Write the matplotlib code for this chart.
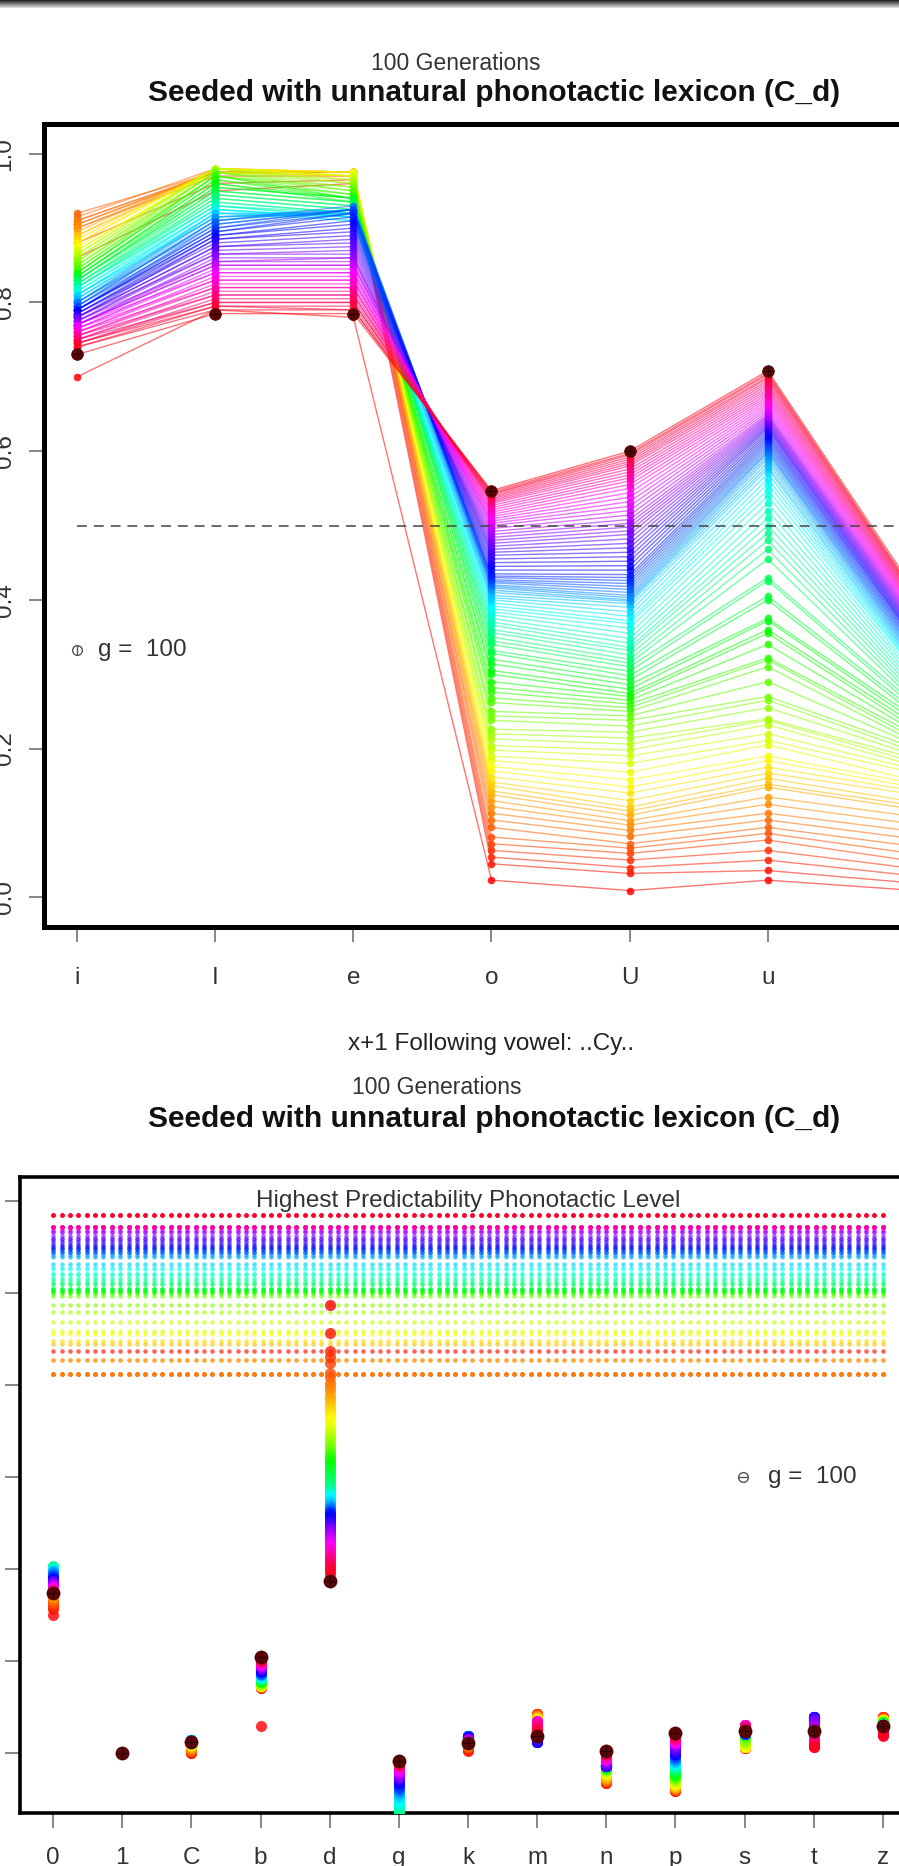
import numpy as np
import matplotlib
matplotlib.use("Agg")
import matplotlib.pyplot as plt
from matplotlib.colors import hsv_to_rgb

plt.rcParams["font.family"] = ["Liberation Sans", "DejaVu Sans"]

W, H, DPI = 899, 1866, 100

# ---- top panel: proportion per following vowel, one value per generation (g = 1..100)
vowels = ["i", "I", "e", "o", "U", "u", "a"]

v_i = [0.70, 0.86, 0.88, 0.90, 0.905, 0.91, 0.92, 0.915, 0.91, 0.905,
       0.90, 0.895, 0.89, 0.89, 0.885, 0.88, 0.88, 0.875, 0.87, 0.87,
       0.865, 0.865, 0.86, 0.86, 0.855, 0.855, 0.85, 0.85, 0.845, 0.845,
       0.84, 0.84, 0.84, 0.835, 0.835, 0.83, 0.835, 0.83, 0.83, 0.825,
       0.83, 0.825, 0.82, 0.825, 0.82, 0.82, 0.815, 0.82, 0.815, 0.81,
       0.81, 0.81, 0.805, 0.81, 0.80, 0.805, 0.80, 0.80, 0.795, 0.80,
       0.795, 0.79, 0.795, 0.79, 0.79, 0.79, 0.785, 0.79, 0.785, 0.78,
       0.785, 0.78, 0.78, 0.775, 0.78, 0.775, 0.77, 0.775, 0.77, 0.77,
       0.77, 0.765, 0.77, 0.765, 0.76, 0.765, 0.76, 0.755, 0.76, 0.755,
       0.75, 0.755, 0.75, 0.745, 0.75, 0.745, 0.74, 0.745, 0.74, 0.73]
v_I = [0.79, 0.95, 0.96, 0.97, 0.975, 0.975, 0.975, 0.98, 0.975, 0.975,
       0.975, 0.98, 0.98, 0.975, 0.98, 0.98, 0.98, 0.975, 0.98, 0.98,
       0.98, 0.98, 0.975, 0.98, 0.975, 0.975, 0.97, 0.975, 0.97, 0.97,
       0.965, 0.97, 0.965, 0.96, 0.96, 0.955, 0.955, 0.95, 0.95, 0.945,
       0.945, 0.94, 0.94, 0.935, 0.935, 0.93, 0.93, 0.93, 0.925, 0.925,
       0.92, 0.925, 0.92, 0.915, 0.92, 0.915, 0.91, 0.915, 0.91, 0.905,
       0.91, 0.905, 0.90, 0.90, 0.895, 0.895, 0.89, 0.89, 0.885, 0.885,
       0.88, 0.875, 0.875, 0.87, 0.865, 0.865, 0.86, 0.855, 0.855, 0.85,
       0.85, 0.845, 0.84, 0.84, 0.835, 0.83, 0.83, 0.825, 0.82, 0.82,
       0.815, 0.81, 0.81, 0.805, 0.80, 0.80, 0.795, 0.795, 0.79, 0.785]
v_e = [0.78, 0.96, 0.965, 0.97, 0.975, 0.975, 0.975, 0.975, 0.97, 0.975,
       0.975, 0.975, 0.97, 0.975, 0.975, 0.975, 0.97, 0.97, 0.975, 0.97,
       0.97, 0.965, 0.965, 0.96, 0.96, 0.955, 0.955, 0.95, 0.95, 0.945,
       0.945, 0.94, 0.94, 0.94, 0.935, 0.94, 0.94, 0.935, 0.935, 0.93,
       0.93, 0.925, 0.925, 0.92, 0.92, 0.92, 0.915, 0.915, 0.915, 0.91,
       0.91, 0.915, 0.915, 0.92, 0.92, 0.92, 0.925, 0.925, 0.925, 0.925,
       0.93, 0.925, 0.925, 0.92, 0.92, 0.915, 0.91, 0.905, 0.90, 0.895,
       0.89, 0.885, 0.88, 0.875, 0.87, 0.865, 0.86, 0.86, 0.855, 0.85,
       0.85, 0.845, 0.84, 0.84, 0.835, 0.83, 0.83, 0.825, 0.82, 0.82,
       0.815, 0.81, 0.81, 0.805, 0.80, 0.80, 0.795, 0.79, 0.79, 0.785]
v_o = [0.023, 0.045, 0.054, 0.063, 0.072, 0.081, 0.094, 0.104, 0.113, 0.122,
       0.13, 0.138, 0.143, 0.15, 0.155, 0.162, 0.17, 0.176, 0.184, 0.19,
       0.198, 0.204, 0.213, 0.22, 0.226, 0.238, 0.244, 0.25, 0.262, 0.268,
       0.276, 0.282, 0.29, 0.30, 0.305, 0.314, 0.32, 0.328, 0.332, 0.34,
       0.345, 0.35, 0.356, 0.36, 0.366, 0.37, 0.375, 0.38, 0.384, 0.388,
       0.392, 0.396, 0.40, 0.403, 0.406, 0.41, 0.413, 0.416, 0.418, 0.42,
       0.423, 0.425, 0.427, 0.43, 0.432, 0.435, 0.44, 0.445, 0.45, 0.455,
       0.46, 0.464, 0.468, 0.472, 0.476, 0.48, 0.484, 0.488, 0.492, 0.496,
       0.50, 0.503, 0.506, 0.509, 0.512, 0.515, 0.518, 0.521, 0.524, 0.527,
       0.53, 0.532, 0.534, 0.536, 0.538, 0.54, 0.542, 0.543, 0.545, 0.547]
v_U = [0.009, 0.032, 0.04, 0.05, 0.059, 0.066, 0.072, 0.082, 0.09, 0.097,
       0.103, 0.11, 0.116, 0.121, 0.13, 0.14, 0.148, 0.158, 0.168, 0.18,
       0.19, 0.198, 0.206, 0.214, 0.222, 0.23, 0.238, 0.244, 0.25, 0.255,
       0.26, 0.265, 0.27, 0.274, 0.28, 0.286, 0.292, 0.298, 0.304, 0.31,
       0.315, 0.32, 0.326, 0.332, 0.336, 0.342, 0.348, 0.355, 0.362, 0.368,
       0.372, 0.378, 0.384, 0.39, 0.395, 0.398, 0.40, 0.403, 0.406, 0.41,
       0.414, 0.418, 0.422, 0.426, 0.43, 0.434, 0.44, 0.446, 0.452, 0.458,
       0.464, 0.47, 0.476, 0.482, 0.488, 0.493, 0.498, 0.503, 0.508, 0.514,
       0.52, 0.526, 0.532, 0.538, 0.544, 0.55, 0.555, 0.56, 0.564, 0.568,
       0.572, 0.576, 0.58, 0.583, 0.586, 0.589, 0.592, 0.595, 0.597, 0.60]
v_u = [0.023, 0.036, 0.05, 0.063, 0.077, 0.086, 0.094, 0.104, 0.113, 0.125,
       0.135, 0.148, 0.152, 0.16, 0.167, 0.175, 0.184, 0.19, 0.205, 0.211,
       0.22, 0.232, 0.238, 0.24, 0.255, 0.265, 0.27, 0.29, 0.31, 0.319,
       0.322, 0.34, 0.355, 0.36, 0.372, 0.375, 0.40, 0.405, 0.426, 0.43,
       0.455, 0.468, 0.48, 0.49, 0.50, 0.51, 0.52, 0.53, 0.54, 0.548,
       0.556, 0.563, 0.57, 0.576, 0.58, 0.585, 0.59, 0.594, 0.598, 0.60,
       0.603, 0.606, 0.609, 0.612, 0.615, 0.618, 0.621, 0.624, 0.627, 0.63,
       0.632, 0.634, 0.636, 0.638, 0.64, 0.642, 0.644, 0.646, 0.648, 0.65,
       0.653, 0.656, 0.659, 0.662, 0.665, 0.668, 0.671, 0.674, 0.677, 0.68,
       0.683, 0.686, 0.689, 0.692, 0.695, 0.698, 0.70, 0.703, 0.705, 0.708]
v_a = [0.01, 0.02, 0.03, 0.04, 0.05, 0.06, 0.07, 0.08, 0.09, 0.10,
       0.11, 0.12, 0.125, 0.13, 0.14, 0.145, 0.15, 0.155, 0.16, 0.17,
       0.175, 0.18, 0.185, 0.19, 0.195, 0.20, 0.205, 0.21, 0.215, 0.22,
       0.225, 0.23, 0.235, 0.24, 0.245, 0.25, 0.255, 0.26, 0.265, 0.27,
       0.275, 0.28, 0.285, 0.29, 0.295, 0.30, 0.305, 0.31, 0.315, 0.32,
       0.322, 0.325, 0.327, 0.33, 0.332, 0.335, 0.337, 0.34, 0.342, 0.345,
       0.347, 0.35, 0.352, 0.355, 0.357, 0.36, 0.362, 0.364, 0.366, 0.368,
       0.37, 0.372, 0.374, 0.376, 0.378, 0.38, 0.382, 0.384, 0.386, 0.388,
       0.39, 0.392, 0.394, 0.396, 0.398, 0.40, 0.402, 0.404, 0.406, 0.408,
       0.41, 0.412, 0.414, 0.416, 0.418, 0.42, 0.422, 0.424, 0.426, 0.43]

# ---- bottom panel: value per consonant, one value per generation
consonants = ["0", "1", "C", "b", "d", "g", "k", "m", "n", "p", "s", "t", "z"]

c_0 = [1.50, 1.56, 1.58, 1.60, 1.62, 1.64, 1.65, 1.66, 1.68, 1.69,
       1.70, 1.72, 1.73, 1.75, 1.76, 1.78, 1.79, 1.80, 1.82, 1.83,
       1.84, 1.85, 1.86, 1.87, 1.88, 1.89, 1.90, 1.91, 1.92, 1.93,
       1.94, 1.95, 1.96, 1.97, 1.98, 1.99, 2.00, 2.00, 2.01, 2.02,
       2.02, 2.02, 2.03, 2.02, 2.02, 2.01, 2.01, 2.00, 2.00, 1.99,
       1.99, 1.98, 1.98, 1.97, 1.97, 1.96, 1.96, 1.95, 1.94, 1.94,
       1.93, 1.92, 1.92, 1.91, 1.90, 1.90, 1.89, 1.89, 1.88, 1.87,
       1.87, 1.86, 1.86, 1.85, 1.84, 1.84, 1.83, 1.83, 1.82, 1.81,
       1.81, 1.80, 1.80, 1.79, 1.79, 1.78, 1.78, 1.77, 1.77, 1.76,
       1.76, 1.76, 1.75, 1.75, 1.75, 1.74, 1.74, 1.74, 1.74, 1.74]
c_1 = [0.0, 0.0, 0.0, 0.0, 0.0, 0.0, 0.0, 0.0, 0.0, 0.0,
       0.0, 0.0, 0.0, 0.0, 0.0, 0.0, 0.0, 0.0, 0.0, 0.0,
       0.0, 0.0, 0.0, 0.0, 0.0, 0.0, 0.0, 0.0, 0.0, 0.0,
       0.0, 0.0, 0.0, 0.0, 0.0, 0.0, 0.0, 0.0, 0.0, 0.0,
       0.0, 0.0, 0.0, 0.0, 0.0, 0.0, 0.0, 0.0, 0.0, 0.0,
       0.0, 0.0, 0.0, 0.0, 0.0, 0.0, 0.0, 0.0, 0.0, 0.0,
       0.0, 0.0, 0.0, 0.0, 0.0, 0.0, 0.0, 0.0, 0.0, 0.0,
       0.0, 0.0, 0.0, 0.0, 0.0, 0.0, 0.0, 0.0, 0.0, 0.0,
       0.0, 0.0, 0.0, 0.0, 0.0, 0.0, 0.0, 0.0, 0.0, 0.0,
       0.0, 0.0, 0.0, 0.0, 0.0, 0.0, 0.0, 0.0, 0.0, 0.0]
c_C = [0.00, 0.00, 0.01, 0.01, 0.02, 0.02, 0.03, 0.03, 0.04, 0.05,
       0.06, 0.06, 0.07, 0.07, 0.08, 0.08, 0.08, 0.09, 0.09, 0.09,
       0.10, 0.10, 0.10, 0.10, 0.11, 0.11, 0.11, 0.11, 0.11, 0.12,
       0.12, 0.12, 0.12, 0.12, 0.12, 0.13, 0.13, 0.13, 0.13, 0.13,
       0.13, 0.13, 0.13, 0.14, 0.14, 0.14, 0.14, 0.14, 0.14, 0.14,
       0.14, 0.14, 0.14, 0.14, 0.14, 0.14, 0.14, 0.14, 0.13, 0.13,
       0.13, 0.13, 0.13, 0.13, 0.13, 0.13, 0.13, 0.13, 0.13, 0.13,
       0.13, 0.13, 0.13, 0.13, 0.13, 0.12, 0.12, 0.12, 0.12, 0.12,
       0.12, 0.12, 0.12, 0.12, 0.12, 0.12, 0.12, 0.12, 0.12, 0.12,
       0.12, 0.12, 0.12, 0.12, 0.12, 0.12, 0.12, 0.12, 0.12, 0.12]
c_b = [0.29, 0.70, 0.70, 0.71, 0.71, 0.71, 0.72, 0.72, 0.72, 0.72,
       0.72, 0.72, 0.72, 0.72, 0.72, 0.72, 0.72, 0.73, 0.73, 0.74,
       0.74, 0.75, 0.75, 0.75, 0.76, 0.76, 0.76, 0.77, 0.77, 0.77,
       0.77, 0.78, 0.78, 0.78, 0.78, 0.79, 0.79, 0.79, 0.79, 0.80,
       0.80, 0.80, 0.80, 0.81, 0.81, 0.81, 0.81, 0.82, 0.82, 0.82,
       0.83, 0.83, 0.83, 0.84, 0.84, 0.84, 0.85, 0.85, 0.86, 0.86,
       0.86, 0.87, 0.87, 0.88, 0.88, 0.88, 0.89, 0.89, 0.90, 0.90,
       0.91, 0.91, 0.92, 0.92, 0.93, 0.93, 0.93, 0.94, 0.94, 0.95,
       0.95, 0.95, 0.96, 0.96, 0.96, 0.97, 0.97, 0.98, 0.98, 0.98,
       0.99, 0.99, 1.00, 1.00, 1.01, 1.01, 1.02, 1.02, 1.03, 1.04]
c_d = [4.86, 4.56, 4.36, 4.30, 4.24, 4.13, 4.08, 4.02, 3.97, 3.93,
       3.88, 3.84, 3.80, 3.76, 3.72, 3.68, 3.64, 3.60, 3.56, 3.52,
       3.48, 3.45, 3.42, 3.39, 3.36, 3.33, 3.30, 3.27, 3.25, 3.23,
       3.21, 3.19, 3.17, 3.15, 3.12, 3.09, 3.06, 3.03, 3.00, 2.97,
       2.94, 2.91, 2.89, 2.87, 2.85, 2.83, 2.82, 2.81, 2.80, 2.79,
       2.78, 2.76, 2.74, 2.72, 2.70, 2.69, 2.68, 2.67, 2.66, 2.65,
       2.64, 2.63, 2.62, 2.61, 2.60, 2.59, 2.58, 2.56, 2.54, 2.52,
       2.50, 2.48, 2.46, 2.45, 2.44, 2.42, 2.40, 2.38, 2.36, 2.34,
       2.32, 2.30, 2.28, 2.26, 2.24, 2.22, 2.20, 2.18, 2.16, 2.14,
       2.12, 2.10, 2.08, 2.06, 2.04, 2.02, 2.00, 1.97, 1.94, 1.86]
c_g = [-2.6, -2.5, -2.4, -2.3, -2.2, -2.1, -2.0, -1.95, -1.9, -1.85,
       -1.8, -1.75, -1.7, -1.65, -1.6, -1.55, -1.5, -1.45, -1.4, -1.35,
       -1.3, -1.25, -1.2, -1.15, -1.1, -1.06, -1.02, -0.98, -0.94, -0.90,
       -0.87, -0.84, -0.81, -0.78, -0.75, -0.73, -0.71, -0.69, -0.67, -0.65,
       -0.63, -0.62, -0.61, -0.60, -0.59, -0.58, -0.57, -0.56, -0.55, -0.54,
       -0.52, -0.50, -0.48, -0.46, -0.45, -0.44, -0.43, -0.42, -0.41, -0.40,
       -0.39, -0.38, -0.37, -0.36, -0.35, -0.34, -0.33, -0.32, -0.31, -0.30,
       -0.29, -0.28, -0.27, -0.27, -0.26, -0.25, -0.24, -0.23, -0.22, -0.22,
       -0.21, -0.20, -0.19, -0.18, -0.18, -0.17, -0.16, -0.16, -0.15, -0.14,
       -0.14, -0.13, -0.13, -0.12, -0.12, -0.11, -0.11, -0.10, -0.10, -0.09]
c_k = [0.02, 0.03, 0.04, 0.05, 0.06, 0.06, 0.07, 0.07, 0.08, 0.08,
       0.09, 0.09, 0.09, 0.10, 0.10, 0.10, 0.11, 0.11, 0.11, 0.11,
       0.12, 0.12, 0.12, 0.12, 0.13, 0.13, 0.13, 0.13, 0.14, 0.14,
       0.14, 0.14, 0.15, 0.15, 0.15, 0.15, 0.15, 0.16, 0.16, 0.16,
       0.16, 0.16, 0.17, 0.17, 0.17, 0.17, 0.17, 0.17, 0.18, 0.18,
       0.18, 0.18, 0.18, 0.18, 0.18, 0.18, 0.18, 0.18, 0.18, 0.18,
       0.18, 0.18, 0.18, 0.17, 0.17, 0.17, 0.17, 0.17, 0.16, 0.16,
       0.16, 0.16, 0.15, 0.15, 0.15, 0.15, 0.14, 0.14, 0.14, 0.14,
       0.13, 0.13, 0.13, 0.13, 0.12, 0.12, 0.12, 0.12, 0.12, 0.11,
       0.11, 0.11, 0.11, 0.11, 0.11, 0.11, 0.11, 0.11, 0.11, 0.11]
c_m = [0.42, 0.42, 0.42, 0.42, 0.41, 0.41, 0.41, 0.40, 0.40, 0.40,
       0.39, 0.39, 0.38, 0.38, 0.37, 0.37, 0.36, 0.36, 0.35, 0.35,
       0.34, 0.34, 0.33, 0.33, 0.32, 0.32, 0.31, 0.31, 0.30, 0.30,
       0.29, 0.29, 0.28, 0.28, 0.27, 0.27, 0.26, 0.26, 0.25, 0.25,
       0.24, 0.24, 0.23, 0.23, 0.22, 0.22, 0.21, 0.21, 0.20, 0.20,
       0.19, 0.19, 0.18, 0.18, 0.17, 0.17, 0.16, 0.16, 0.15, 0.15,
       0.14, 0.14, 0.13, 0.13, 0.13, 0.12, 0.12, 0.12, 0.12, 0.13,
       0.14, 0.16, 0.18, 0.20, 0.22, 0.24, 0.26, 0.28, 0.30, 0.31,
       0.32, 0.33, 0.33, 0.34, 0.34, 0.34, 0.33, 0.33, 0.32, 0.31,
       0.30, 0.29, 0.28, 0.27, 0.26, 0.25, 0.24, 0.22, 0.20, 0.185]
c_n = [-0.33, -0.33, -0.32, -0.32, -0.31, -0.31, -0.30, -0.30, -0.29, -0.29,
       -0.28, -0.27, -0.26, -0.25, -0.24, -0.23, -0.22, -0.22, -0.21, -0.21,
       -0.20, -0.20, -0.20, -0.19, -0.19, -0.19, -0.18, -0.18, -0.18, -0.17,
       -0.17, -0.17, -0.17, -0.16, -0.16, -0.16, -0.16, -0.15, -0.15, -0.15,
       -0.15, -0.15, -0.14, -0.14, -0.14, -0.14, -0.14, -0.14, -0.13, -0.13,
       -0.13, -0.13, -0.13, -0.13, -0.13, -0.13, -0.13, -0.13, -0.13, -0.14,
       -0.14, -0.14, -0.14, -0.15, -0.15, -0.15, -0.15, -0.15, -0.15, -0.15,
       -0.14, -0.14, -0.13, -0.12, -0.11, -0.10, -0.10, -0.09, -0.09, -0.08,
       -0.08, -0.08, -0.07, -0.07, -0.06, -0.06, -0.05, -0.05, -0.04, -0.04,
       -0.03, -0.03, -0.02, -0.02, -0.01, -0.01, 0.00, 0.00, 0.01, 0.02]
c_p = [-0.42, -0.42, -0.41, -0.41, -0.40, -0.40, -0.39, -0.39, -0.38, -0.38,
       -0.37, -0.37, -0.36, -0.36, -0.35, -0.35, -0.34, -0.33, -0.33, -0.32,
       -0.31, -0.31, -0.30, -0.29, -0.29, -0.28, -0.27, -0.27, -0.26, -0.25,
       -0.25, -0.24, -0.23, -0.23, -0.22, -0.21, -0.21, -0.20, -0.19, -0.19,
       -0.18, -0.17, -0.17, -0.16, -0.15, -0.15, -0.14, -0.13, -0.13, -0.12,
       -0.11, -0.11, -0.10, -0.10, -0.09, -0.08, -0.08, -0.07, -0.06, -0.06,
       -0.05, -0.05, -0.04, -0.03, -0.03, -0.02, -0.01, -0.01, 0.00, 0.01,
       0.02, 0.03, 0.04, 0.05, 0.06, 0.07, 0.08, 0.08, 0.09, 0.10,
       0.10, 0.11, 0.12, 0.12, 0.13, 0.13, 0.14, 0.14, 0.15, 0.15,
       0.16, 0.16, 0.17, 0.17, 0.18, 0.18, 0.19, 0.19, 0.20, 0.21]
c_s = [0.05, 0.05, 0.05, 0.06, 0.06, 0.06, 0.06, 0.06, 0.06, 0.06,
       0.06, 0.06, 0.06, 0.06, 0.06, 0.06, 0.06, 0.07, 0.08, 0.09,
       0.10, 0.11, 0.12, 0.13, 0.14, 0.15, 0.16, 0.17, 0.18, 0.19,
       0.19, 0.20, 0.20, 0.21, 0.21, 0.21, 0.22, 0.22, 0.22, 0.22,
       0.22, 0.22, 0.22, 0.22, 0.22, 0.22, 0.22, 0.22, 0.21, 0.21,
       0.21, 0.21, 0.21, 0.20, 0.20, 0.20, 0.20, 0.20, 0.20, 0.20,
       0.20, 0.20, 0.20, 0.21, 0.21, 0.21, 0.22, 0.22, 0.22, 0.23,
       0.23, 0.24, 0.24, 0.25, 0.25, 0.26, 0.26, 0.27, 0.27, 0.28,
       0.28, 0.29, 0.29, 0.30, 0.30, 0.30, 0.30, 0.30, 0.29, 0.29,
       0.28, 0.28, 0.27, 0.27, 0.26, 0.26, 0.25, 0.25, 0.25, 0.24]
c_t = [0.22, 0.22, 0.23, 0.23, 0.23, 0.24, 0.24, 0.24, 0.25, 0.25,
       0.25, 0.25, 0.26, 0.26, 0.26, 0.26, 0.27, 0.27, 0.27, 0.27,
       0.27, 0.28, 0.28, 0.28, 0.28, 0.28, 0.29, 0.29, 0.29, 0.29,
       0.29, 0.29, 0.30, 0.30, 0.30, 0.30, 0.30, 0.30, 0.31, 0.31,
       0.31, 0.31, 0.32, 0.32, 0.32, 0.33, 0.33, 0.33, 0.34, 0.34,
       0.34, 0.35, 0.35, 0.35, 0.36, 0.36, 0.36, 0.37, 0.37, 0.37,
       0.38, 0.38, 0.38, 0.38, 0.39, 0.39, 0.39, 0.39, 0.39, 0.39,
       0.38, 0.38, 0.37, 0.36, 0.35, 0.33, 0.32, 0.30, 0.29, 0.27,
       0.26, 0.24, 0.23, 0.21, 0.20, 0.18, 0.17, 0.16, 0.14, 0.13,
       0.12, 0.11, 0.10, 0.09, 0.08, 0.07, 0.07, 0.06, 0.06, 0.24]
c_z = [0.39, 0.39, 0.39, 0.39, 0.38, 0.38, 0.38, 0.37, 0.37, 0.37,
       0.36, 0.36, 0.36, 0.36, 0.35, 0.35, 0.35, 0.35, 0.35, 0.34,
       0.34, 0.34, 0.34, 0.34, 0.33, 0.33, 0.33, 0.33, 0.33, 0.33,
       0.32, 0.32, 0.32, 0.32, 0.32, 0.32, 0.32, 0.31, 0.31, 0.31,
       0.31, 0.31, 0.31, 0.31, 0.31, 0.31, 0.30, 0.30, 0.30, 0.30,
       0.30, 0.30, 0.30, 0.30, 0.30, 0.30, 0.30, 0.30, 0.30, 0.30,
       0.30, 0.30, 0.30, 0.30, 0.30, 0.30, 0.30, 0.30, 0.30, 0.30,
       0.30, 0.30, 0.30, 0.30, 0.30, 0.29, 0.29, 0.29, 0.29, 0.28,
       0.28, 0.27, 0.27, 0.26, 0.26, 0.25, 0.25, 0.24, 0.23, 0.23,
       0.22, 0.22, 0.21, 0.21, 0.20, 0.20, 0.19, 0.19, 0.18, 0.29]

# highest predictability phonotactic level per generation
top_level = [4.36, 4.36, 4.11, 4.11, 4.11, 4.11, 4.11, 4.11, 4.27, 4.27,
             4.27, 4.11, 4.44, 4.44, 4.47, 4.47, 4.55, 4.55, 4.58, 4.58,
             4.68, 4.68, 4.79, 4.79, 4.87, 4.87, 4.96, 4.96, 4.99, 4.99,
             5.01, 5.01, 5.02, 5.02, 5.04, 5.04, 5.04, 5.04, 5.04, 5.09,
             5.09, 5.09, 5.13, 5.13, 5.16, 5.16, 5.20, 5.20, 5.20, 5.26,
             5.26, 5.28, 5.31, 5.31, 5.39, 5.39, 5.41, 5.41, 5.44, 5.44,
             5.44, 5.44, 5.47, 5.47, 5.47, 5.50, 5.50, 5.52, 5.52, 5.55,
             5.55, 5.58, 5.58, 5.58, 5.62, 5.62, 5.66, 5.66, 5.66, 5.68,
             5.68, 5.71, 5.71, 5.71, 5.71, 5.71, 5.71, 5.71, 5.71, 5.71,
             5.71, 5.71, 5.84, 5.84, 5.84, 5.84, 5.84, 5.84, 5.84, 5.84]

n_gen = len(v_i)
gen_colors = [hsv_to_rgb(((g) / n_gen, 1.0, 1.0)) for g in range(n_gen)]
final_col = "#5a0606"
txt_col = "#333333"
tick_col = "#666666"
FS = 17.5


def style_axes(ax, spine_w):
    for s in ax.spines.values():
        s.set_linewidth(spine_w)
        s.set_color("black")
    ax.tick_params(direction="out", length=10.5, width=1.1, color=tick_col,
                   labelcolor=txt_col, labelsize=FS, top=False, right=False)


fig = plt.figure(figsize=(W / DPI, H / DPI), dpi=DPI)

# thin dark band at the very top of the screenshot
band = fig.add_axes([0, 1 - 8 / H, 1, 8 / H])
band.imshow(np.linspace(0.15, 0.85, 8).reshape(-1, 1), cmap="gray",
            aspect="auto", vmin=0, vmax=1)
band.axis("off")

# ---------------- top panel ----------------
ax1 = fig.add_axes([44 / W, 1 - 927 / H, (939 - 44) / W, (927 - 124) / H])
top = np.array([v_i, v_I, v_e, v_o, v_U, v_u, v_a])
xs = np.arange(1, len(vowels) + 1)
for g in range(n_gen):
    ax1.plot(xs, top[:, g], color=gen_colors[g], lw=1.0, alpha=0.55, zorder=2)
    ax1.plot(xs, top[:, g], ls="none", marker="o", ms=5.5, mec="none",
             color=gen_colors[g], alpha=0.85, zorder=2)
ax1.plot(xs, top[:, -1], ls="none", marker="o", ms=9, mec="none",
         color=final_col, zorder=4)
ax1.plot(xs, top[:, -1], ls="none", marker="+", ms=8, mew=0.8,
         color="#2a0000", zorder=4)
ax1.plot([xs[0], xs[-1]], [0.5, 0.5], ls=(0, (6.5, 4.5)), lw=1.1,
         color="#444444", zorder=5)

ax1.plot(1.0, 0.332, marker="o", ms=7, mfc="none", mec="#555555", mew=1.0)
ax1.plot(1.0, 0.332, marker="|", ms=7, mec="#555555", mew=1.0)
ax1.text(1.152, 0.332, "g =  100", va="center", ha="left", fontsize=FS,
         color=txt_col)

ax1.set_xlim(0.76, 7.24)
ax1.set_ylim(-0.04, 1.04)
ax1.set_xticks(xs)
ax1.set_xticklabels(vowels)
ax1.set_yticks([0.0, 0.2, 0.4, 0.6, 0.8, 1.0])
ax1.set_yticklabels(["0.0", "0.2", "0.4", "0.6", "0.8", "1.0"])
style_axes(ax1, 3.6)
ax1.tick_params(axis="x", pad=18)
ax1.tick_params(axis="y", pad=10)
for lab in ax1.get_yticklabels():
    lab.set_rotation(90)
    lab.set_va("center")

# ---------------- bottom panel ----------------
ax2 = fig.add_axes([20 / W, 1 - 1813 / H, (916 - 20) / W, (1813 - 1177) / H])
bottom = np.array([c_0, c_1, c_C, c_b, c_d, c_g, c_k, c_m, c_n, c_p, c_s, c_t, c_z])
xc = np.arange(1, len(consonants) + 1)
strip_x = np.linspace(1, len(consonants), n_gen)
for g in range(n_gen):
    ax2.plot(strip_x, np.full(n_gen, top_level[g]), ls="none", marker="o",
             ms=3.2, mec="none", color=gen_colors[g], alpha=0.4, zorder=2)
for g in range(n_gen):
    ax2.plot(xc, bottom[:, g], ls="none", marker="o", ms=8, mec="none",
             color=gen_colors[g], alpha=0.8, zorder=3)
ax2.plot(xc, bottom[:, -1], ls="none", marker="o", ms=10, mec="none",
         color=final_col, zorder=4)
ax2.plot(xc, bottom[:, -1], ls="none", marker="+", ms=9, mew=0.8,
         color="#2a0000", zorder=4)

ax2.text(7, 6, "Highest Predictability Phonotactic Level", ha="center",
         va="center", fontsize=FS, color=txt_col)
ax2.plot(10.98, 3.0, marker="o", ms=7, mfc="none", mec="#555555", mew=1.0)
ax2.plot(10.98, 3.0, marker="_", ms=7, mec="#555555", mew=1.0)
ax2.text(11.34, 3.0, "g =  100", va="center", ha="left", fontsize=FS,
         color=txt_col)

ax2.set_xlim(0.52, 13.48)
ax2.set_ylim(-0.656, 6.256)
ax2.set_xticks(xc)
ax2.set_xticklabels(consonants)
ax2.set_yticks([0, 1, 2, 3, 4, 5, 6])
style_axes(ax2, 2.6)
ax2.tick_params(axis="x", pad=14)
ax2.tick_params(axis="y", pad=10)
for lab in ax2.get_yticklabels():
    lab.set_rotation(90)
    lab.set_va("center")

# ---------------- titles and labels ----------------
title = "Seeded with unnatural phonotactic lexicon (C_d)"
fig.text(456 / W, 1 - 63 / H, "100 Generations", ha="center", va="center",
         fontsize=16.5, color=txt_col)
fig.text(494 / W, 1 - 93 / H, title, ha="center", va="center",
         fontsize=21.5, fontweight="bold", color="#111111")
fig.text(491 / W, 1 - 1044 / H, "x+1 Following vowel: ..Cy..", ha="center",
         va="center", fontsize=FS, color="#222222")
fig.text(437 / W, 1 - 1087 / H, "100 Generations", ha="center", va="center",
         fontsize=16.5, color=txt_col)
fig.text(494 / W, 1 - 1119 / H, title, ha="center", va="center",
         fontsize=21.5, fontweight="bold", color="#111111")

fig.savefig("out.png", dpi=DPI)
